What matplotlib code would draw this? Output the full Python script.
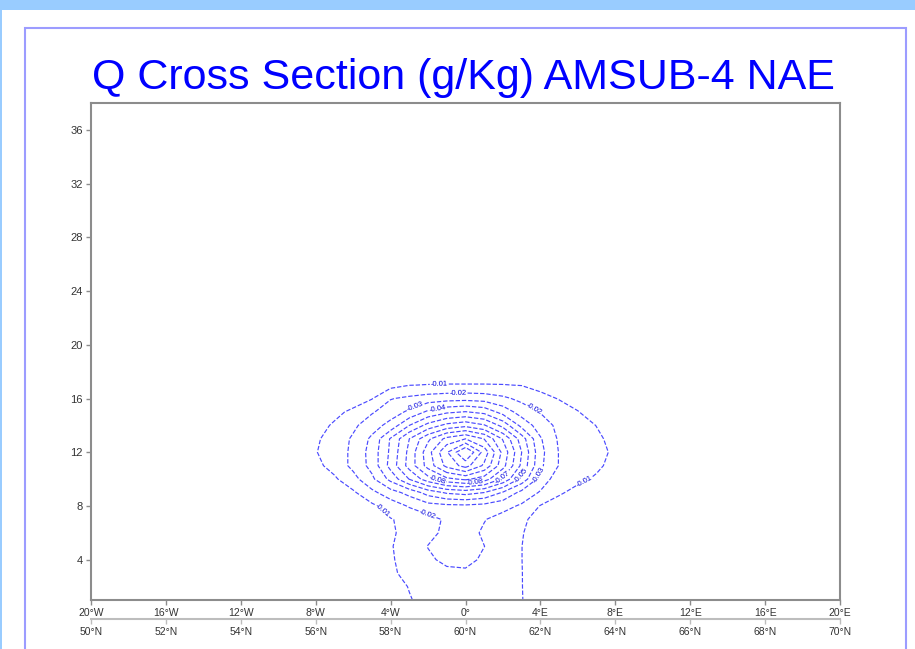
import matplotlib
matplotlib.use("Agg")
import matplotlib.pyplot as plt
import numpy as np
from matplotlib.patches import Rectangle

# ---------------- data ----------------
title = "Q Cross Section (g/Kg) AMSUB-4 NAE"

grid_lon = [-10, -9, -8, -7, -6, -5, -4, -3, -2, -1, 0, 1, 2, 3, 4, 5, 6, 7, 8, 9, 10]
grid_lev = list(range(19, 0, -1))  # rows below go from level 19 down to level 1

q_rows = [
    [0, 0, 0, 0, 0, 0, 0, 0, 0, 0, 0, 0, 0, 0, 0, 0, 0, 0, 0, 0, 0],                                                                                    # 19
    [0, 0, 0, 0, 0, -0.002, -0.003, -0.004, -0.004, -0.004, -0.004, -0.004, -0.004, -0.004, -0.003, -0.002, 0, 0, 0, 0, 0],                           # 18
    [0, 0, 0, 0, -0.002, -0.004, -0.007, -0.0098, -0.0103, -0.0105, -0.0105, -0.0105, -0.0103, -0.0097, -0.007, -0.004, -0.002, 0, 0, 0, 0],         # 17
    [0, 0, 0, -0.001, -0.004, -0.0095, -0.0195, -0.022, -0.0245, -0.026, -0.0266, -0.0255, -0.022, -0.0175, -0.013, -0.0095, -0.005, -0.002, 0, 0, 0],  # 16
    [0, 0, -0.0025, -0.007, -0.0125, -0.019, -0.025, -0.032, -0.042, -0.048, -0.0505, -0.047, -0.036, -0.0255, -0.0195, -0.0145, -0.0105, -0.004, -0.001, 0, 0],  # 15
    [0, -0.001, -0.0058, -0.0115, -0.018, -0.0254, -0.0335, -0.050, -0.0635, -0.073, -0.077, -0.071, -0.0566, -0.0368, -0.025, -0.0175, -0.0135, -0.0098, -0.004, -0.001, 0],  # 14
    [0, -0.002, -0.0085, -0.0143, -0.0214, -0.032, -0.051, -0.070, -0.088, -0.103, -0.110, -0.0996, -0.079, -0.055, -0.031, -0.0185, -0.0145, -0.0115, -0.0075, -0.001, 0],  # 13
    [0, -0.004, -0.0095, -0.015, -0.022, -0.034, -0.052, -0.073, -0.096, -0.119, -0.141, -0.116, -0.087, -0.060, -0.033, -0.0195, -0.016, -0.0125, -0.0085, -0.003, 0],  # 12
    [0, -0.002, -0.0075, -0.0135, -0.0226, -0.0332, -0.0536, -0.074, -0.094, -0.113, -0.124, -0.108, -0.0835, -0.0577, -0.032, -0.0195, -0.0155, -0.012, -0.0065, -0.002, 0],  # 11
    [0, -0.001, -0.004, -0.0085, -0.0165, -0.0278, -0.043, -0.0604, -0.076, -0.0875, -0.092, -0.085, -0.068, -0.0465, -0.026, -0.0145, -0.0125, -0.0085, -0.004, -0.001, 0],  # 10
    [0, 0, -0.001, -0.004, -0.0085, -0.0175, -0.0258, -0.0334, -0.0442, -0.0515, -0.054, -0.050, -0.039, -0.027, -0.019, -0.0115, -0.0065, -0.003, -0.001, 0, 0],  # 9
    [0, 0, 0, -0.001, -0.003, -0.008, -0.0145, -0.021, -0.026, -0.0275, -0.028, -0.0265, -0.0235, -0.0185, -0.0095, -0.005, -0.002, 0, 0, 0, 0],  # 8
    [0, 0, 0, 0, -0.002, -0.005, -0.0095, -0.0125, -0.0165, -0.0215, -0.0235, -0.0205, -0.016, -0.0115, -0.007, -0.003, -0.001, 0, 0, 0, 0],  # 7
    [0, 0, 0, 0, -0.001, -0.004, -0.0085, -0.0135, -0.017, -0.0225, -0.024, -0.0185, -0.015, -0.0105, -0.006, -0.002, 0, 0, 0, 0, 0],  # 6
    [0, 0, 0, 0, -0.001, -0.004, -0.0093, -0.0145, -0.0203, -0.0235, -0.0245, -0.0201, -0.0155, -0.0101, -0.005, -0.0015, 0, 0, 0, 0, 0],  # 5
    [0, 0, 0, 0, -0.001, -0.004, -0.009, -0.0135, -0.0185, -0.022, -0.0225, -0.0185, -0.015, -0.0101, -0.005, -0.0015, 0, 0, 0, 0, 0],  # 4
    [0, 0, 0, 0, -0.001, -0.004, -0.0085, -0.0125, -0.016, -0.018, -0.0185, -0.0175, -0.0145, -0.0102, -0.005, -0.0015, 0, 0, 0, 0, 0],  # 3
    [0, 0, 0, 0, 0, -0.002, -0.0055, -0.0105, -0.0145, -0.016, -0.0165, -0.016, -0.0145, -0.0102, -0.0055, -0.0015, 0, 0, 0, 0, 0],  # 2
    [0, 0, 0, 0, 0, -0.0015, -0.005, -0.0093, -0.0135, -0.015, -0.0155, -0.015, -0.0135, -0.0103, -0.0055, -0.0015, 0, 0, 0, 0, 0],  # 1
]

contour_levels = [-0.13, -0.12, -0.11, -0.10, -0.09, -0.08, -0.07, -0.06, -0.05, -0.04, -0.03, -0.02, -0.01]

lon_ticks = [-20, -16, -12, -8, -4, 0, 4, 8, 12, 16, 20]
lon_labels = ["20°W", "16°W", "12°W", "8°W", "4°W", "0°", "4°E", "8°E", "12°E", "16°E", "20°E"]
lat_ticks = [50, 52, 54, 56, 58, 60, 62, 64, 66, 68, 70]
lat_labels = ["50°N", "52°N", "54°N", "56°N", "58°N", "60°N", "62°N", "64°N", "66°N", "68°N", "70°N"]
lev_ticks = [4, 8, 12, 16, 20, 24, 28, 32, 36]

# approximate places of the contour labels
label_lon = [-1.4, -0.4, -2.7, -1.5, 3.7, -1.5, 0.5, 2.0, 3.0, 3.8, 6.4, -4.5, -2.0]
label_lev = [17.0, 16.4, 15.5, 15.3, 15.3, 10.1, 9.8, 10.1, 10.2, 10.4, 9.7, 7.6, 7.5]

# ---------------- figure ----------------
W, H = 915, 649
plt.rcParams["font.family"] = ["Liberation Sans", "DejaVu Sans"]
fig = plt.figure(figsize=(W / 100, H / 100), dpi=100)
fig.patch.set_facecolor("white")

fig.patches.append(Rectangle((0, 1 - 10 / H), 1, 10 / H, transform=fig.transFigure,
                             facecolor="#99ccff", edgecolor="none", zorder=0))
fig.patches.append(Rectangle((0, 0), 2 / W, 1, transform=fig.transFigure,
                             facecolor="#99ccff", edgecolor="none", zorder=0))
fig.patches.append(Rectangle((25 / W, -0.1), (906 - 25) / W, 1 - 28 / H + 0.1,
                             transform=fig.transFigure, fill=False,
                             edgecolor="#9c9cff", linewidth=1.5, zorder=0))

fig.text(463 / W, 1 - 89 / H, title, ha="center", va="baseline",
         color="#0000ff", fontsize=31)

ax = fig.add_axes([91 / W, 1 - 600 / H, 749 / W, 497 / H])
ax.set_xlim(-20, 20)
ax.set_ylim(1, 38)

lev_arr = np.array(grid_lev[::-1])
q = np.array(q_rows[::-1])
cs = ax.contour(np.array(grid_lon), lev_arr, q, levels=contour_levels,
                colors="#4a4aff", linewidths=0.85, linestyles="dashed")

ax.clabel(cs, manual=list(zip(label_lon, label_lev)), fmt="%.2f", fontsize=5.5,
          colors="#0000dd", inline=True, inline_spacing=1)

for s in ax.spines.values():
    s.set_color("#8c8c8c")
    s.set_linewidth(1.5)

ax.set_xticks(lon_ticks)
ax.set_xticklabels(lon_labels)
ax.set_yticks(lev_ticks)
ax.set_yticklabels([str(v) for v in lev_ticks])
ax.tick_params(direction="out", length=3.8, width=1, color="#8c8c8c",
               labelcolor="#333333", pad=2)
ax.tick_params(axis="x", labelsize=7.5)
ax.tick_params(axis="y", labelsize=8)

ax2 = ax.twiny()
ax2.set_xlim(50, 70)
ax2.xaxis.set_ticks_position("bottom")
ax2.xaxis.set_label_position("bottom")
ax2.spines["bottom"].set_position(("outward", 13.7))
for k in ("top", "left", "right"):
    ax2.spines[k].set_visible(False)
ax2.spines["bottom"].set_color("#bdbdbd")
ax2.spines["bottom"].set_linewidth(1.5)
ax2.set_xticks(lat_ticks)
ax2.set_xticklabels(lat_labels)
ax2.tick_params(direction="out", length=3.8, width=1, color="#bdbdbd",
                labelsize=7.5, labelcolor="#333333", pad=2)

fig.savefig("out.png", dpi=100)
